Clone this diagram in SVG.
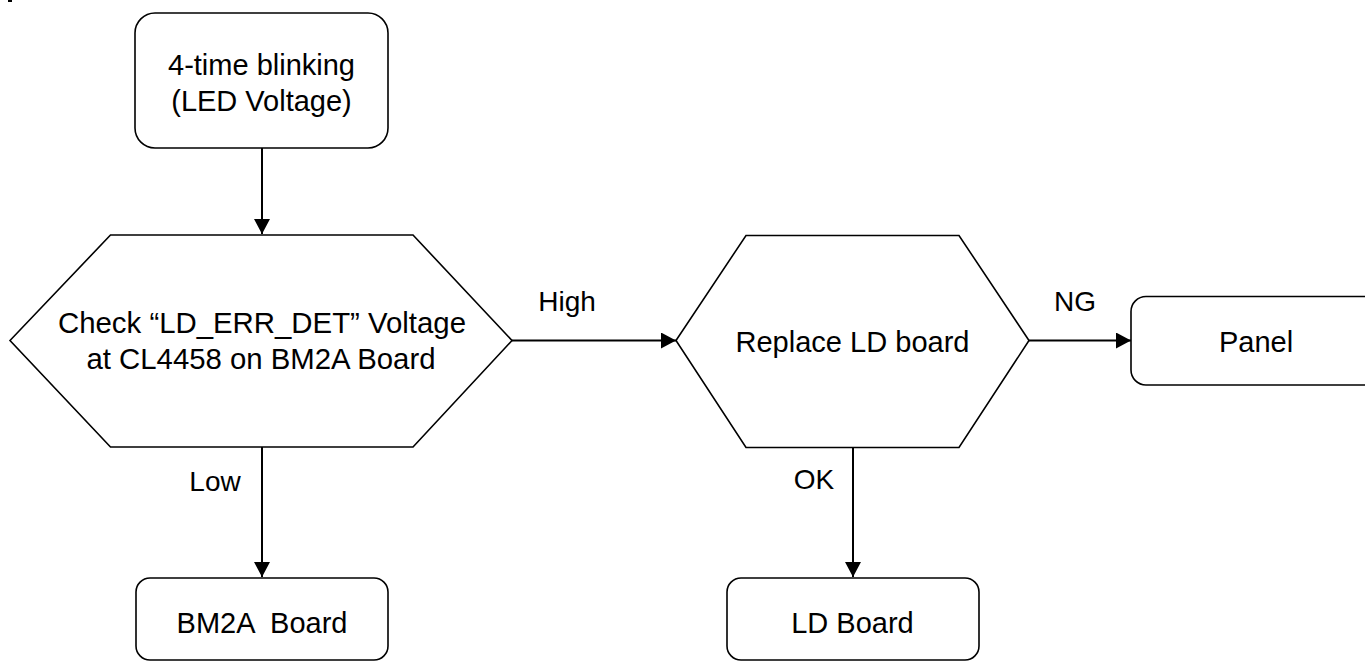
<svg xmlns="http://www.w3.org/2000/svg" width="1365" height="662" viewBox="0 0 1365 662">
<defs>
<marker id="arr" markerUnits="userSpaceOnUse" markerWidth="16" markerHeight="16" viewBox="0 0 16 16" refX="15" refY="8" orient="auto">
<path d="M0,0 L15,8 L0,16 Z" fill="#000"/>
</marker>
</defs>
<style>
.box{fill:#fff;stroke:#000;stroke-width:1.6}
.t{font-family:"Liberation Sans",Arial,sans-serif;font-size:29px;fill:#000;text-anchor:middle}
.l{font-size:28px}
.c{stroke:#000;stroke-width:2;fill:none;marker-end:url(#arr)}
</style>
<rect x="0" y="0" width="1365" height="662" fill="#fff"/>
<rect x="8" y="0" width="4" height="2" fill="#000"/>
<g id="connectors">
<line class="c" x1="262" y1="148" x2="262" y2="234"/>
<line class="c" x1="512" y1="340.5" x2="676" y2="340.5"/>
<line class="c" x1="1029" y1="340.5" x2="1131" y2="340.5"/>
<line class="c" x1="262" y1="447" x2="262" y2="577"/>
<line class="c" x1="853" y1="447" x2="853" y2="577"/>
<text class="t l" x="567" y="311">High</text>
<text class="t l" x="1075" y="311">NG</text>
<text class="t l" x="215" y="491">Low</text>
<text class="t l" x="814" y="489">OK</text>
</g>
<g id="start">
<rect class="box" x="135" y="13" width="253" height="135" rx="20" ry="20"/>
<text class="t" x="261.5" y="75">4-time blinking</text>
<text class="t" x="261.5" y="111">(LED Voltage)</text>
</g>
<g id="check">
<polygon class="box" points="10,340.5 110.5,235 413,235 512,340.5 413,447 110.5,447"/>
<text class="t" x="262" y="333" textLength="408" lengthAdjust="spacingAndGlyphs">Check “LD_ERR_DET” Voltage</text>
<text class="t" x="261" y="369" textLength="349" lengthAdjust="spacingAndGlyphs">at CL4458 on BM2A Board</text>
</g>
<g id="replace">
<polygon class="box" points="676,340.5 746,235.5 959,235.5 1029,340.5 959,447.5 746,447.5"/>
<text class="t" x="852.5" y="352" textLength="234" lengthAdjust="spacingAndGlyphs">Replace LD board</text>
</g>
<g id="panel">
<rect class="box" x="1131" y="296.5" width="250" height="88.5" rx="15" ry="15"/>
<text class="t" x="1256" y="352">Panel</text>
</g>
<g id="bm2a">
<rect class="box" x="136" y="578" width="252" height="82" rx="14" ry="14"/>
<text class="t" x="262" y="633" xml:space="preserve">BM2A  Board</text>
</g>
<g id="ldboard">
<rect class="box" x="727" y="578" width="252" height="82" rx="14" ry="14"/>
<text class="t" x="852.5" y="633">LD Board</text>
</g>
</svg>
